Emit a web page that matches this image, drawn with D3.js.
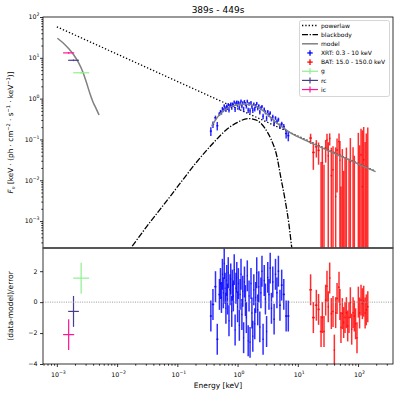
<!DOCTYPE html>
<html>
<head>
<meta charset="utf-8">
<script src="https://cdn.jsdelivr.net/npm/d3@7"></script>
<style>
body { margin: 0; background: #fff; }
text { font-family: "DejaVu Sans", sans-serif; fill: #000; }
</style>
</head>
<body>
<div id="chart-area"></div>
<script>
//============================DATA============================
var titleText = "389s - 449s";

// model components [keV] / [flux]
var powerlawE = [0.001, 195];
var powerlawF = [57.5, 0.0166];

var bbE = [0.0141, 0.017, 0.0316, 0.0708, 0.126, 0.224, 0.398, 0.631, 1.0, 1.51,
           2.0, 2.82, 3.55, 4.47, 5.25, 6.17, 7.08, 7.94, 8.51];
var bbF = [1.5e-4, 2.2e-4, 7.6e-4, 3.5e-3, 0.0107, 0.0316, 0.083, 0.166, 0.263, 0.324,
           0.302, 0.191, 0.105, 0.0398, 0.0112, 3.2e-3, 8.9e-4, 2.2e-4, 1e-4];

var modelOptE = [0.00102, 0.00126, 0.00158, 0.00191, 0.00229, 0.00269, 0.00309, 0.00355, 0.00398, 0.00447, 0.00501];
var modelOptF = [30.2, 23.4, 16.6, 11.7, 7.6, 4.57, 2.51, 1.32, 0.83, 0.575, 0.398];

var modelXE = [0.372, 0.398, 0.479, 0.617, 0.794, 1.0, 1.32, 1.78, 2.24, 2.88, 3.72, 4.79, 6.17, 7.94, 13.8, 50.1, 195];
var modelXF = [0.209, 0.251, 0.372, 0.537, 0.646, 0.708, 0.741, 0.692, 0.603, 0.457, 0.324, 0.234, 0.178, 0.138, 0.0933, 0.0398, 0.0162];

// optical bands
var bands = ["g", "rc", "ic"];
var bandColors = ["#90ee90", "#483d8b", "#ff1493"];
var bandE = [2.53e-3, 1.89e-3, 1.57e-3];
var bandElo = [1.87e-3, 1.54e-3, 1.27e-3];
var bandEhi = [3.44e-3, 2.32e-3, 1.94e-3];
var bandF = [4.3, 8.7, 13.2];
var bandFerr = [0.25, 0.4, 0.6];
var bandRes = [1.55, -0.6, -2.1];

// XRT
var xrtE = [0.36, 0.39, 0.43, 0.46, 0.50, 0.52, 0.54, 0.56, 0.58, 0.60,
            0.62, 0.64, 0.66, 0.68, 0.70, 0.72, 0.75, 0.77, 0.80, 0.82,
            0.85, 0.88, 0.91, 0.94, 0.97, 1.00, 1.03, 1.07, 1.10, 1.14,
            1.18, 1.22, 1.26, 1.30, 1.35, 1.40, 1.45, 1.50, 1.55, 1.61,
            1.67, 1.73, 1.79, 1.86, 1.93, 2.00, 2.08, 2.16, 2.25, 2.34,
            2.44, 2.54, 2.65, 2.77, 2.90, 3.03, 3.17, 3.32, 3.48, 3.65,
            3.84, 4.04, 4.26, 4.50, 4.76, 5.05, 5.40, 5.85, 6.40, 6.95];
var xrtF = [0.160, 0.234, 0.339, 0.217, 0.422, 0.479, 0.457, 0.569, 0.525, 0.670,
            0.590, 0.528, 0.652, 0.590, 0.712, 0.522, 0.673, 0.735, 0.603, 0.734,
            0.693, 0.828, 0.547, 0.758, 0.823, 0.685, 0.805, 0.598, 0.759, 0.867,
            0.664, 0.787, 0.550, 0.846, 0.746, 0.651, 0.862, 0.521, 0.745, 0.505,
            0.795, 0.643, 0.522, 0.732, 0.557, 0.665, 0.762, 0.583, 0.666, 0.473,
            0.586, 0.640, 0.369, 0.553, 0.465, 0.330, 0.479, 0.401, 0.446, 0.316,
            0.362, 0.249, 0.336, 0.274, 0.307, 0.214, 0.240, 0.205, 0.140, 0.124];
var xrtErr = [0.039, 0.043, 0.044, 0.051, 0.048, 0.050, 0.053, 0.056, 0.059, 0.062,
              0.059, 0.061, 0.062, 0.063, 0.065, 0.066, 0.068, 0.069, 0.071, 0.072,
              0.073, 0.074, 0.075, 0.076, 0.077, 0.078, 0.078, 0.079, 0.079, 0.080,
              0.080, 0.080, 0.081, 0.081, 0.081, 0.080, 0.080, 0.079, 0.079, 0.078,
              0.077, 0.077, 0.076, 0.074, 0.072, 0.071, 0.069, 0.068, 0.066, 0.063,
              0.060, 0.058, 0.055, 0.053, 0.054, 0.051, 0.048, 0.045, 0.042, 0.040,
              0.040, 0.038, 0.035, 0.033, 0.035, 0.033, 0.031, 0.034, 0.034, 0.034];
var xrtRes = [-0.9, -0.15, 1.0, -2.4, 0.5, 1.2, 0.3, 1.8, 0.6, 2.5,
              0.9, -0.4, 1.4, 0.2, 1.9, -1.2, 0.8, 1.5, -0.6, 1.1,
              0.4, 2.1, -1.8, 0.9, 1.6, -0.3, 1.2, -1.5, 0.5, 1.8,
              -0.8, 0.7, -2.3, 1.3, 0.1, -1.0, 1.7, -2.5, 0.4, -2.6,
              1.2, -0.7, -2.2, 0.8, -1.4, 0.3, 1.9, -0.5, 1.0, -1.6,
              0.6, 2.0, -2.4, 1.4, 0.2, -1.9, 1.6, 0.5, 2.2, -0.4,
              1.3, -1.1, 1.8, 0.6, 2.0, -0.2, 1.1, 0.5, -0.9, -0.9];

// BAT
var batE = [16.3, 18.1, 20.3, 22.1, 24.3, 25.5, 27.2, 29, 30.5, 32,
            33.8, 36, 38.4, 40.4, 42.5, 44.8, 48.3, 50, 52, 54.8,
            57.7, 60.8, 64, 67.3, 70.8, 74.5, 78.4, 82.6, 86.7, 91,
            96, 101, 106, 112, 118, 124, 131, 137, 145];
var batF = [0.108, 0.048, 0.066, 0.054, -0.012, 0.027, -0.016, 0.062, 0.097, 0.040,
            0.106, 0.013, 0.018, -0.047, 0.004, 0.055, 0.089, 0.031, -0.043, -0.022,
            -0.043, -0.045, -0.027, -0.075, -0.058, 0.028, -0.093, -0.046, -0.080, -0.113,
            -0.158, 0.025, -0.088, 0.042, 0.007, 0.032, -0.133, -0.100, -0.055];
var batErr = [0.03, 0.03, 0.03, 0.03, 0.04, 0.035, 0.04, 0.035, 0.04, 0.045,
              0.035, 0.05, 0.05, 0.03, 0.06, 0.05, 0.05, 0.06, 0.05, 0.08,
              0.06, 0.08, 0.09, 0.07, 0.09, 0.08, 0.07, 0.11, 0.12, 0.10,
              0.08, 0.12, 0.16, 0.14, 0.16, 0.17, 0.22, 0.24, 0.25];
var batRes = [0.8, -1.0, -0.2, -0.47, -1.9, -1.0, -1.9, 0.13, 1.03, -0.3,
              1.56, -0.74, -0.6, -3.1, -0.68, 0.24, 0.96, -0.15, -1.64, -0.74,
              -1.32, -1.0, -0.68, -1.54, -1.0, -0.04, -1.75, -0.68, -0.9, -1.4,
              -2.3, 0.0, -0.7, 0.13, -0.1, 0.06, -0.7, -0.5, -0.3];

var legendLabels = ["powerlaw", "blackbody", "model", "XRT: 0.3 - 10 keV", "BAT: 15.0 - 150.0 keV", "g", "rc", "ic"];

//============================LAYOUT============================
var W = 398, H = 395;
var plotL = 43, plotR = 393, plotT = 17, plotS = 248, plotB = 364;

var svg = d3.select("#chart-area").append("svg")
    .attr("width", W).attr("height", H);

var x = d3.scaleLog().domain([Math.pow(10, -3.23), Math.pow(10, 2.58)]).range([plotL, plotR]);
var yTop = d3.scaleLog().domain([Math.pow(10, -3.66), 100]).range([plotS, plotT]);
var yBot = d3.scaleLinear().domain([-4, 3.5]).range([plotB, plotS]);

var defs = svg.append("defs");
defs.append("clipPath").attr("id", "clipTop").append("rect")
    .attr("x", plotL).attr("y", plotT).attr("width", plotR - plotL).attr("height", plotS - plotT);
defs.append("clipPath").attr("id", "clipBot").append("rect")
    .attr("x", plotL).attr("y", plotS).attr("width", plotR - plotL).attr("height", plotB - plotS);

var gTop = svg.append("g").attr("clip-path", "url(#clipTop)");
var gBot = svg.append("g").attr("clip-path", "url(#clipBot)");

// clamp for log scale (matplotlib clips non-positive values)
function yT(v) { return yTop(Math.max(v, 1e-7)); }

// bin edges from neighbouring energies
function edges(E) {
    var lo = [], hi = [];
    for (var i = 0; i < E.length; i++) {
        var prev = i > 0 ? Math.sqrt(E[i - 1] * E[i]) : E[i] * E[i] / Math.sqrt(E[i] * E[i + 1]);
        var next = i < E.length - 1 ? Math.sqrt(E[i] * E[i + 1]) : E[i] * E[i] / Math.sqrt(E[i - 1] * E[i]);
        lo.push(prev); hi.push(next);
    }
    return [lo, hi];
}

function errorbars(g, E, lo, hi, ylo, yhi, yc, color, op, sw) {
    for (var i = 0; i < E.length; i++) {
        if (yhi[i] !== null) {
            g.append("line")
                .attr("x1", x(E[i])).attr("x2", x(E[i]))
                .attr("y1", ylo[i]).attr("y2", yhi[i])
                .attr("stroke", color).attr("stroke-width", sw).attr("stroke-opacity", op);
        }
        if (yc[i] !== null) {
            g.append("line")
                .attr("x1", x(lo[i])).attr("x2", x(hi[i]))
                .attr("y1", yc[i]).attr("y2", yc[i])
                .attr("stroke", color).attr("stroke-width", sw).attr("stroke-opacity", op);
        }
    }
}

function dataset(E, F, err, res, color, op) {
    var ed = edges(E);
    var ylo = [], yhi = [], yc = [], rlo = [], rhi = [], rc = [];
    for (var i = 0; i < E.length; i++) {
        var hiv = F[i] + err[i];
        yhi.push(hiv > 0 ? yT(hiv) : null);
        ylo.push(yT(F[i] - err[i]));
        yc.push(F[i] > 0 ? yT(F[i]) : null);
        rlo.push(yBot(res[i] - 1)); rhi.push(yBot(res[i] + 1)); rc.push(yBot(res[i]));
    }
    errorbars(gTop, E, ed[0], ed[1], ylo, yhi, yc, color, op, 1.5);
    errorbars(gBot, E, ed[0], ed[1], rlo, rhi, rc, color, op, 1.5);
}

//============================MODEL LINES============================
var lineTop = d3.line()
    .x(function(d) { return x(d[0]); })
    .y(function(d) { return yT(d[1]); })
    .curve(d3.curveMonotoneX);

function pairs(a, b) { return a.map(function(v, i) { return [v, b[i]]; }); }

gTop.append("path").datum(pairs(powerlawE, powerlawF)).attr("d", lineTop)
    .attr("fill", "none").attr("stroke", "#000").attr("stroke-width", 1.3)
    .attr("stroke-dasharray", "1.3,2");

gTop.append("path").datum(pairs(bbE, bbF)).attr("d", lineTop)
    .attr("fill", "none").attr("stroke", "#000").attr("stroke-width", 1.3)
    .attr("stroke-dasharray", "6,1.6,1.3,1.6");

//============================DATA POINTS============================
dataset(xrtE, xrtF, xrtErr, xrtRes, "#0000ff", 0.82);
dataset(batE, batF, batErr, batRes, "#ff0000", 0.82);

[pairs(modelOptE, modelOptF), pairs(modelXE, modelXF)].forEach(function(seg) {
    gTop.append("path").datum(seg).attr("d", lineTop)
        .attr("fill", "none").attr("stroke", "#808080").attr("stroke-width", 1.5);
});

bands.forEach(function(b, i) {
    var ylo = [yT(bandF[i] - bandFerr[i])], yhi = [yT(bandF[i] + bandFerr[i])], yc = [yT(bandF[i])];
    errorbars(gTop, [bandE[i]], [bandElo[i]], [bandEhi[i]], ylo, yhi, yc, bandColors[i], 1, 1.2);
    errorbars(gBot, [bandE[i]], [bandElo[i]], [bandEhi[i]],
        [yBot(bandRes[i] - 1)], [yBot(bandRes[i] + 1)], [yBot(bandRes[i])], bandColors[i], 1, 1.2);
});

// zero line in residuals
gBot.append("line")
    .attr("x1", plotL).attr("x2", plotR).attr("y1", yBot(0)).attr("y2", yBot(0))
    .attr("stroke", "#999").attr("stroke-width", 1).attr("stroke-dasharray", "1,1.3");

//============================AXES============================
function powLabel(sel, v) {
    var e = Math.round(Math.log10(v));
    sel.append("tspan").text("10");
    sel.append("tspan").attr("dy", -3).attr("font-size", 4.6).text(e < 0 ? "\u2212" + (-e) : e);
}

var majors = [], minors = [];
for (var p = -4; p <= 2; p++) {
    majors.push(Math.pow(10, p));
    for (var k = 2; k <= 9; k++) minors.push(k * Math.pow(10, p));
}

function styleAxis(g) {
    g.select(".domain").remove();
    g.selectAll(".tick line").attr("stroke", "#000").attr("stroke-width", 0.8);
}

// top panel y
var yMaj = majors.filter(function(v) { return v >= yTop.domain()[0] && v <= 100; });
var yMin = minors.filter(function(v) { return v >= yTop.domain()[0] && v <= 100; });
svg.append("g").attr("transform", "translate(" + plotL + ",0)")
    .call(d3.axisLeft(yTop).tickValues(yMaj).tickSize(3).tickFormat("")).call(styleAxis);
svg.append("g").attr("transform", "translate(" + plotL + ",0)")
    .call(d3.axisLeft(yTop).tickValues(yMin).tickSize(1.7).tickFormat("")).call(styleAxis);
yMaj.forEach(function(v) {
    var t = svg.append("text").attr("x", 39.5).attr("y", yTop(v) + 2.3)
        .attr("text-anchor", "end").attr("font-size", 6.3);
    powLabel(t, v);
});

// bottom panel y
var rTicks = [-4, -2, 0, 2];
svg.append("g").attr("transform", "translate(" + plotL + ",0)")
    .call(d3.axisLeft(yBot).tickValues(rTicks).tickSize(3).tickFormat("")).call(styleAxis);
rTicks.forEach(function(v) {
    svg.append("text").attr("x", 37.5).attr("y", yBot(v) + 2.3)
        .attr("text-anchor", "end").attr("font-size", 6.3)
        .text(v < 0 ? "\u2212" + (-v) : v);
});

// x axis
var xMaj = majors.filter(function(v) { return v >= x.domain()[0] && v <= x.domain()[1]; });
var xMin = minors.filter(function(v) { return v >= x.domain()[0] && v <= x.domain()[1]; });
svg.append("g").attr("transform", "translate(0," + plotB + ")")
    .call(d3.axisBottom(x).tickValues(xMaj).tickSize(3).tickFormat("")).call(styleAxis);
svg.append("g").attr("transform", "translate(0," + plotB + ")")
    .call(d3.axisBottom(x).tickValues(xMin).tickSize(1.7).tickFormat("")).call(styleAxis);
xMaj.forEach(function(v) {
    var t = svg.append("text").attr("x", x(v) + 1.5).attr("y", 376.5)
        .attr("text-anchor", "middle").attr("font-size", 6.3);
    powLabel(t, v);
});

// spines
svg.append("rect").attr("x", plotL).attr("y", plotT).attr("width", plotR - plotL).attr("height", plotS - plotT)
    .attr("fill", "none").attr("stroke", "#000").attr("stroke-width", 0.8);
svg.append("rect").attr("x", plotL).attr("y", plotS).attr("width", plotR - plotL).attr("height", plotB - plotS)
    .attr("fill", "none").attr("stroke", "#000").attr("stroke-width", 0.8);
svg.append("line").attr("x1", plotL).attr("x2", plotR).attr("y1", plotS).attr("y2", plotS)
    .attr("stroke", "#555").attr("stroke-width", 1.3);

//============================LABELS============================
svg.append("text").attr("x", (plotL + plotR) / 2).attr("y", 13)
    .attr("text-anchor", "middle").attr("font-size", 9).text(titleText);

svg.append("text").attr("x", (plotL + plotR) / 2).attr("y", 388)
    .attr("text-anchor", "middle").attr("font-size", 7.5).text("Energy [keV]");

svg.append("text").attr("transform", "translate(13," + ((plotS + plotB) / 2) + ") rotate(-90)")
    .attr("text-anchor", "middle").attr("font-size", 7.5).text("(data-model)/error");

var yl = svg.append("text").attr("transform", "translate(13," + ((plotT + plotS) / 2) + ") rotate(-90)")
    .attr("text-anchor", "middle").attr("font-size", 7.3);
yl.append("tspan").attr("font-style", "italic").text("F");
yl.append("tspan").attr("font-size", 5).attr("dy", 1.5).text("\u03bd");
yl.append("tspan").attr("dy", -1.5).text(" [keV \u00b7 (ph \u00b7 cm");
yl.append("tspan").attr("font-size", 5).attr("dy", -3).text("\u22122");
yl.append("tspan").attr("dy", 3).text(" \u00b7 s");
yl.append("tspan").attr("font-size", 5).attr("dy", -3).text("\u22121");
yl.append("tspan").attr("dy", 3).text(" \u00b7 keV");
yl.append("tspan").attr("font-size", 5).attr("dy", -3).text("\u22121");
yl.append("tspan").attr("dy", 3).text(")]");

//============================LEGEND============================
var lg = svg.append("g");
lg.append("rect").attr("x", 299.5).attr("y", 20.5).attr("width", 90).attr("height", 76)
    .attr("rx", 2).attr("fill", "#fff").attr("fill-opacity", 0.8)
    .attr("stroke", "#ccc").attr("stroke-width", 0.8);

var lx0 = 302, lx1 = 318, lxc = 310;
legendLabels.forEach(function(lab, i) {
    var cy = 25.5 + i * 9.15;
    lg.append("text").attr("x", 321).attr("y", cy + 2.1).attr("font-size", 6).text(lab);
    if (i === 0) {
        lg.append("line").attr("x1", lx0).attr("x2", lx1).attr("y1", cy).attr("y2", cy)
            .attr("stroke", "#000").attr("stroke-width", 1.3).attr("stroke-dasharray", "1.3,2");
    } else if (i === 1) {
        lg.append("line").attr("x1", lx0).attr("x2", lx1).attr("y1", cy).attr("y2", cy)
            .attr("stroke", "#000").attr("stroke-width", 1.3).attr("stroke-dasharray", "6,1.6,1.3,1.6");
    } else if (i === 2) {
        lg.append("line").attr("x1", lx0).attr("x2", lx1).attr("y1", cy).attr("y2", cy)
            .attr("stroke", "#808080").attr("stroke-width", 1.5);
    } else if (i === 3 || i === 4) {
        var c = i === 3 ? "#0000ff" : "#ff0000";
        lg.append("line").attr("x1", lxc - 2.7).attr("x2", lxc + 2.7).attr("y1", cy).attr("y2", cy)
            .attr("stroke", c).attr("stroke-width", 1.3);
        lg.append("line").attr("x1", lxc).attr("x2", lxc).attr("y1", cy - 2.8).attr("y2", cy + 2.8)
            .attr("stroke", c).attr("stroke-width", 1.3);
    } else {
        var bc = bandColors[i - 5];
        lg.append("line").attr("x1", lx0).attr("x2", lx1).attr("y1", cy).attr("y2", cy)
            .attr("stroke", bc).attr("stroke-width", 1.2);
        lg.append("line").attr("x1", lxc).attr("x2", lxc).attr("y1", cy - 3).attr("y2", cy + 3)
            .attr("stroke", bc).attr("stroke-width", 1.2);
    }
});
</script>
</body>
</html>
